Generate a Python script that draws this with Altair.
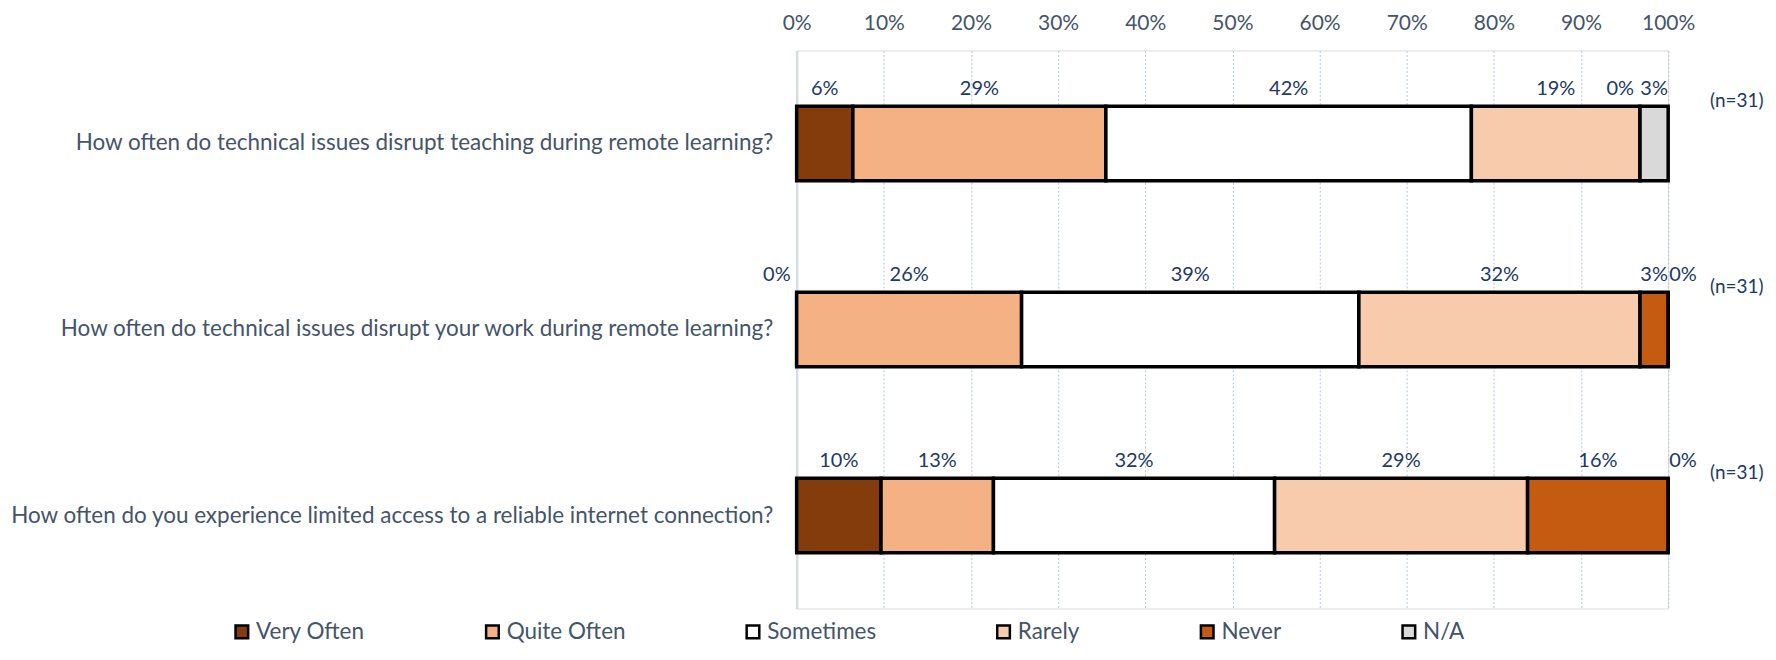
import altair as alt
import pandas as pd

questions = [
    "How often do technical issues disrupt teaching during remote learning?",
    "How often do technical issues disrupt your work during remote learning?",
    "How often do you experience limited access to a reliable internet connection?",
]
categories = ["Very Often", "Quite Often", "Sometimes", "Rarely", "Never", "N/A"]
colors = ["#843C0C", "#F4B183", "#FFFFFF", "#F8CBAD", "#C55A11", "#D9D9D9"]

# percent of respondents per answer (rows follow `questions`)
q1_values = [6.45, 29.03, 41.94, 19.35, 0.0, 3.23]
q2_values = [0.0, 25.81, 38.70, 32.26, 3.23, 0.0]
q3_values = [9.68, 12.90, 32.26, 29.03, 16.13, 0.0]
n_values = [31, 31, 31]
tick_values = [0, 0.1, 0.2, 0.3, 0.4, 0.5, 0.6, 0.7, 0.8, 0.9, 1.0]

rows = []
for q, vals in zip(questions, [q1_values, q2_values, q3_values]):
    for i, (c, v) in enumerate(zip(categories, vals)):
        rows.append({"question": q, "category": c, "order": i, "value": v})
df = pd.DataFrame(rows)
ndf = pd.DataFrame({"question": questions, "n": n_values})

FONT = "Lato"
LABEL_COLOR = "#44546A"
DATA_COLOR = "#203864"

y_enc = alt.Y(
    "question:N",
    sort=questions,
    scale=alt.Scale(paddingInner=0.6, paddingOuter=0.3),
    axis=alt.Axis(
        title=None, ticks=False, domain=True, domainColor="#D6DCE5", domainWidth=2.5,
        labelPadding=24, labelFontSize=22.5, labelColor=LABEL_COLOR, labelLimit=900,
        labelFont=FONT,
    ),
)
x_scale = alt.Scale(domain=[0, 1], nice=False, zero=True)

base = alt.Chart(df).transform_calculate(pct="datum.value / 100")

bars = base.mark_bar(stroke="black", strokeWidth=3.5).encode(
    y=y_enc,
    x=alt.X(
        "pct:Q", stack="zero", scale=x_scale,
        axis=alt.Axis(
            orient="top", values=tick_values, format=".0%", title=None,
            grid=True, gridDash=[2, 2], gridColor="#B4C7E7", gridWidth=1,
            domain=False, ticks=False, labelFlush=False, labelPadding=17,
            labelFontSize=21, labelColor=LABEL_COLOR, labelFont=FONT,
        ),
    ),
    color=alt.Color(
        "category:N", scale=alt.Scale(domain=categories, range=colors),
        legend=alt.Legend(
            orient="none", legendX=-567, legendY=571, direction="horizontal",
            title=None, symbolType="square", symbolSize=160,
            symbolStrokeColor="black", symbolStrokeWidth=2.5,
            labelFontSize=22.5, labelColor=LABEL_COLOR, labelFont=FONT,
            columnPadding=115, labelOffset=3, labelLimit=300,
        ),
    ),
    order=alt.Order("order:Q"),
)

lab_base = base.transform_window(
    cum="sum(value)", sort=[alt.SortField("order")], groupby=["question"], frame=[None, 0]
).transform_calculate(
    mid="(datum.cum - datum.value / 2) / 100",
    label="format(datum.value / 100, '.0%')",
)

lab_nonzero = lab_base.transform_filter("datum.value > 0").mark_text(
    dy=-55, baseline="middle", align="center", fontSize=20, color=DATA_COLOR, font=FONT
).encode(y=alt.Y("question:N", sort=questions), x=alt.X("mid:Q", scale=x_scale), text="label:N")

lab_zero_end = lab_base.transform_filter("datum.value == 0 && datum.category == 'N/A'").mark_text(
    dy=-55, dx=1, baseline="middle", align="left", fontSize=20, color=DATA_COLOR, font=FONT
).encode(y=alt.Y("question:N", sort=questions), x=alt.X("mid:Q", scale=x_scale), text="label:N")

lab_zero_other = lab_base.transform_filter("datum.value == 0 && datum.category != 'N/A'").mark_text(
    dy=-55, dx=-6, baseline="middle", align="right", fontSize=20, color=DATA_COLOR, font=FONT
).encode(y=alt.Y("question:N", sort=questions), x=alt.X("mid:Q", scale=x_scale), text="label:N")

n_text = alt.Chart(ndf).transform_calculate(
    label="'(n=' + datum.n + ')'", pos="1"
).mark_text(
    dy=-43, dx=42, baseline="middle", align="left", fontSize=19, color=DATA_COLOR, font=FONT
).encode(y=alt.Y("question:N", sort=questions), x=alt.X("pos:Q", scale=x_scale), text="label:N")

chart = alt.layer(bars, lab_nonzero, lab_zero_end, lab_zero_other, n_text).properties(
    width=873, height=559,
    autosize=alt.AutoSizeParams(type="none"),
    padding={"left": 790, "top": 42, "right": 100, "bottom": 37},
    background="white",
).configure_view(stroke=None).configure(font=FONT)

chart.save("out.html", embed_options={"renderer": "svg", "actions": False})
